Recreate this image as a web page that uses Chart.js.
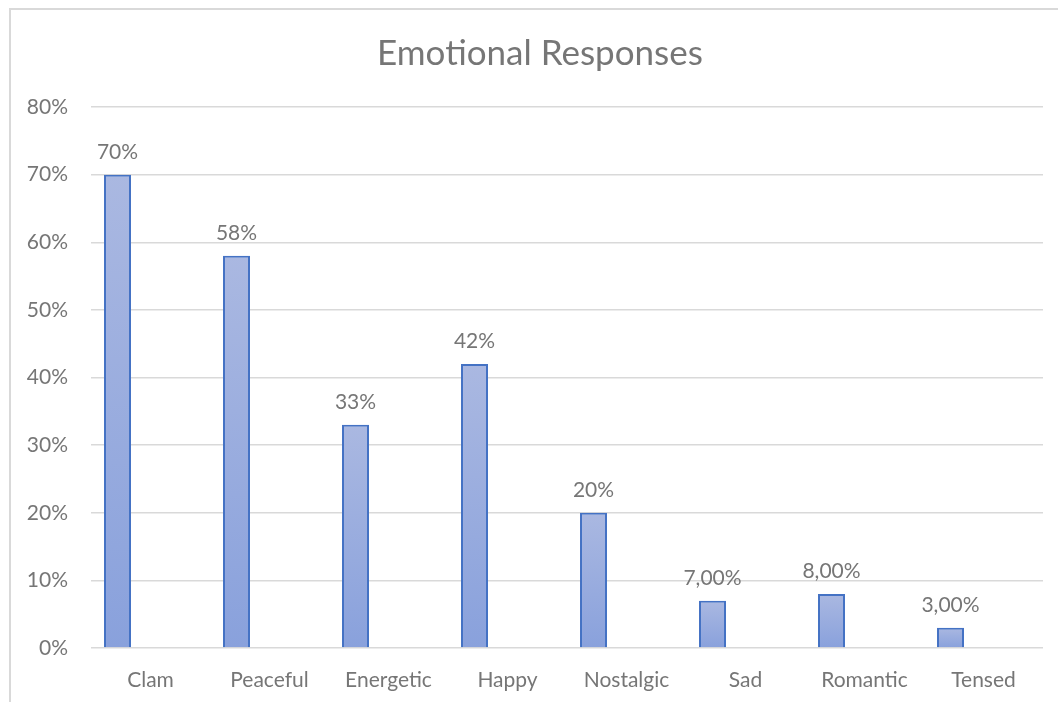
<!DOCTYPE html>
<html>
<head>
<meta charset="utf-8">
<title>Emotional Responses</title>
<script src="https://cdn.jsdelivr.net/npm/chart.js@4.4.1/dist/chart.umd.min.js"></script>
<style>
    html, body { margin: 0; padding: 0; background: #fff; }
    #wrap { position: relative; width: 1058px; height: 702px; overflow: hidden; }
    #frame {
        position: absolute; left: 9px; top: 8px; width: 1100px; height: 760px;
        border-left: 2px solid #d9d9d9; border-top: 2px solid #d9d9d9;
        pointer-events: none;
    }
    canvas { position: absolute; left: 0; top: 0; }
</style>
</head>
<body>
<div id="wrap">
    <canvas id="chart" width="1058" height="702"></canvas>
    <div id="frame"></div>
</div>
<script>
// ============================================
// Data
// ============================================

const chartTitle = 'Emotional Responses';
const categories = ['Clam', 'Peaceful', 'Energetic', 'Happy', 'Nostalgic', 'Sad', 'Romantic', 'Tensed'];
const responses = [70, 58, 33, 42, 20, 7, 8, 3];
// decimals shown in each value label
const labelDecimals = [0, 0, 0, 0, 0, 2, 2, 2];
const yTickLabels = ['0%', '10%', '20%', '30%', '40%', '50%', '60%', '70%', '80%'];

const TEXT_COLOR = '#767676';
const GRID_COLOR = '#d9d9d9';
const FONT = 'Lato, "Open Sans", sans-serif';

function formatLabel(value, decimals) {
    return value.toFixed(decimals).replace('.', ',') + '%';
}

// vertical gradient per bar, light at the top, darker at the base
function barGradient(context) {
    const chart = context.chart;
    if (!chart.chartArea || context.type !== 'data') return '#9aade0';
    const y = chart.scales.y;
    const top = y.getPixelForValue(context.raw);
    const base = y.getPixelForValue(0);
    const g = chart.ctx.createLinearGradient(0, top, 0, base);
    g.addColorStop(0, '#aab8e1');
    g.addColorStop(1, '#89a1dc');
    return g;
}

// title is centred on the outer frame, not on the canvas
const frameTitle = {
    id: 'frameTitle',
    afterDraw(chart) {
        const ctx = chart.ctx;
        ctx.save();
        ctx.font = '35px ' + FONT;
        ctx.fillStyle = TEXT_COLOR;
        ctx.textAlign = 'center';
        ctx.textBaseline = 'middle';
        ctx.fillText(chartTitle, 540, 54);
        ctx.restore();
    }
};

// value labels above each bar
const valueLabels = {
    id: 'valueLabels',
    afterDatasetsDraw(chart) {
        const ctx = chart.ctx;
        const meta = chart.getDatasetMeta(0);
        ctx.save();
        ctx.font = '21px ' + FONT;
        ctx.fillStyle = TEXT_COLOR;
        ctx.textAlign = 'center';
        ctx.textBaseline = 'alphabetic';
        meta.data.forEach((bar, i) => {
            ctx.fillText(formatLabel(responses[i], labelDecimals[i]), bar.x, bar.y - 16);
        });
        ctx.restore();
    }
};

const chart = new Chart(document.getElementById('chart'), {
    type: 'bar',
    data: {
        labels: categories,
        datasets: [{
            label: 'Responses',
            data: responses,
            backgroundColor: barGradient,
            borderColor: '#4472c4',
            borderWidth: 2,
            categoryPercentage: 1.109,
            barPercentage: 0.409
        }, {
            // empty second series keeps the bars to the left of each category
            label: '',
            data: [],
            categoryPercentage: 1.109,
            barPercentage: 0.409
        }]
    },
    options: {
        responsive: false,
        animation: false,
        layout: { padding: { left: 0, right: 15, top: 107, bottom: 0 } },
        plugins: {
            legend: { display: false },
            tooltip: { enabled: false },
            title: { display: false }
        },
        scales: {
            x: {
                grid: { display: false, drawTicks: false },
                border: { display: false },
                ticks: {
                    color: TEXT_COLOR,
                    font: { family: FONT, size: 21 },
                    padding: 20,
                    maxRotation: 0
                },
                afterFit: scale => { scale.height = 54; }
            },
            y: {
                min: 0,
                max: 80,
                grid: { color: GRID_COLOR, lineWidth: 1.5, drawTicks: false },
                border: { display: false },
                ticks: {
                    stepSize: 10,
                    color: TEXT_COLOR,
                    font: { family: FONT, size: 21 },
                    padding: 23,
                    callback: (value, index) => yTickLabels[index]
                },
                afterFit: scale => { scale.width = 91; }
            }
        }
    },
    plugins: [valueLabels, frameTitle]
});
</script>
</body>
</html>
